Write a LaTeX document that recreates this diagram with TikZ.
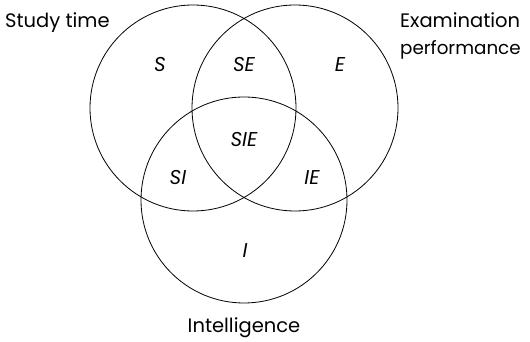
\documentclass[tikz,border=0pt]{standalone}
\usepackage{fontspec}
\setmainfont{Poppins}
\begin{document}
\begin{tikzpicture}[x=1pt,y=1pt,
  ring/.style={draw,line width=0.8pt,circle,minimum size=206pt,inner sep=0pt},
  region/.style={font=\fontsize{20}{24}\selectfont\itshape,inner sep=0pt,anchor=base},
  setlabel/.style={font=\fontsize{19.5}{27}\selectfont,align=left,inner sep=0pt}]
\useasboundingbox (0,0) rectangle (530,342);
\node[ring] (cs) at (193,234) {};
\node[ring] (ce) at (295,234) {};
\node[ring] (ci) at (244,142) {};
\node[region] (s) at (160,270) {S};
\node[region] (se) at (244,270) {SE};
\node[region] (e) at (340,270) {E};
\node[region] (sie) at (244,195) {SIE};
\node[region] (si) at (178,157) {SI};
\node[region] (ie) at (312,157) {IE};
\node[region] (i) at (245,84) {I};
\node[setlabel,anchor=base west] (st) at (5,314) {Study time};
\node[setlabel,anchor=base west] (ex) at (400,314) {Examination};
\node[setlabel,anchor=base west,font=\fontsize{18.3}{27}\selectfont] (pf) at (400,287) {performance};
\node[setlabel,anchor=base] (in) at (244,9) {Intelligence};
\end{tikzpicture}
\end{document}
